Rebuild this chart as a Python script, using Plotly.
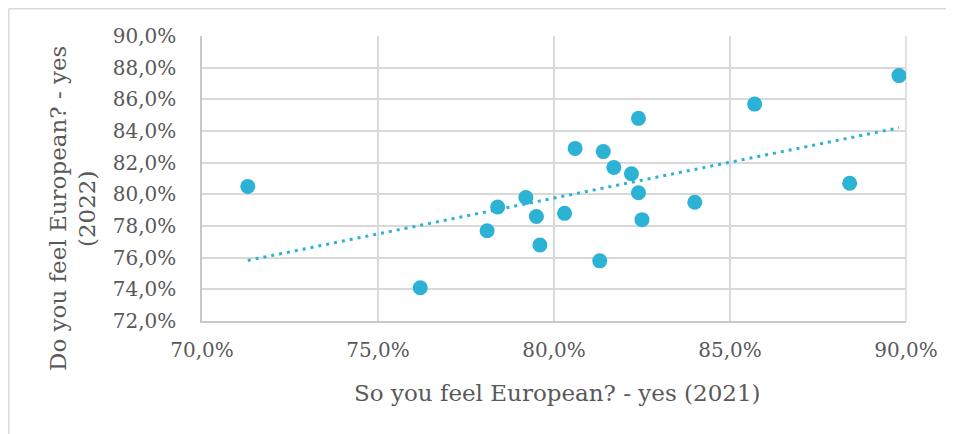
import numpy as np
import plotly.graph_objects as go

# Data (percent)
feel_2021 = [71.3, 76.2, 78.1, 78.4, 79.2, 79.5, 79.6, 80.3, 80.6, 81.4,
             81.7, 81.3, 82.2, 82.4, 82.4, 82.5, 84.0, 85.7, 88.4, 89.8]
feel_2022 = [80.5, 74.1, 77.7, 79.2, 79.8, 78.6, 76.8, 78.8, 82.9, 82.7,
             81.7, 75.8, 81.3, 84.8, 80.1, 78.4, 79.5, 85.7, 80.7, 87.5]

x_ticks = [70, 75, 80, 85, 90]
x_tick_labels = ["70,0%", "75,0%", "80,0%", "85,0%", "90,0%"]
y_ticks = [72, 74, 76, 78, 80, 82, 84, 86, 88, 90]
y_tick_labels = ["72,0%", "74,0%", "76,0%", "78,0%", "80,0%",
                 "82,0%", "84,0%", "86,0%", "88,0%", "90,0%"]

x_title = "So you feel European? - yes (2021)"
y_title_1 = "Do you feel European? - yes"
y_title_2 = "(2022)"

COLOR = "#2BB2D4"
FONT = "DejaVu Serif"
TXT = "#595959"
GRID = "#D9D9D9"

# Linear trend line
xs = np.array(feel_2021)
ys = np.array(feel_2022)
slope, intercept = np.polyfit(xs, ys, 1)
tx = np.array([xs.min(), xs.max()])
ty = slope * tx + intercept

fig = go.Figure()
fig.add_trace(go.Scatter(x=tx, y=ty, mode="lines",
                         line=dict(color=COLOR, width=3, dash="3px,5px"),
                         hoverinfo="skip", showlegend=False))
fig.add_trace(go.Scatter(x=feel_2021, y=feel_2022, mode="markers",
                         marker=dict(color=COLOR, size=15, line=dict(width=0)),
                         showlegend=False))

# page has an 8px body margin: figure occupies page pixels 8..954 x 8..434
OFF = 8
W, H = 954 - OFF, 434 - OFF
L, R, T, B = 194, 48, 28, 113
pw, ph = W - L - R, H - T - B


def px(page_x):
    return (page_x - OFF - L) / pw


def py(page_y):
    return (H - B - (page_y - OFF)) / ph


fig.update_layout(
    width=W, height=H,
    margin=dict(l=L, r=R, t=T, b=B, pad=0),
    paper_bgcolor="white", plot_bgcolor="white",
    font=dict(family=FONT, size=20, color=TXT),
    xaxis=dict(range=[70, 90], tickvals=x_ticks, ticktext=x_tick_labels,
               showgrid=True, gridcolor=GRID, gridwidth=1.5,
               showline=True, linecolor="#C8C8C8", linewidth=1.5,
               zeroline=False, ticks="", ticklabelstandoff=10, automargin=False,
               tickfont=dict(family=FONT, size=20, color=TXT)),
    yaxis=dict(range=[72, 90], tickvals=y_ticks, ticktext=y_tick_labels,
               showgrid=True, gridcolor=GRID, gridwidth=1.5,
               showline=True, linecolor="#C8C8C8", linewidth=1.5,
               zeroline=False, ticks="", ticklabelstandoff=20, automargin=False,
               tickfont=dict(family=FONT, size=20, color=TXT)),
    shapes=[
        dict(type="line", xref="paper", yref="paper", x0=px(8.75), x1=px(954), y0=py(8.75), y1=py(8.75),
             line=dict(color=GRID, width=1.5)),
        dict(type="line", xref="paper", yref="paper", x0=px(8.75), x1=px(8.75), y0=py(8.75), y1=py(434),
             line=dict(color=GRID, width=1.5)),
        dict(type="line", xref="paper", yref="paper", x0=1, x1=1, y0=0, y1=1,
             line=dict(color=GRID, width=1.5), layer="below"),
    ],
    annotations=[
        dict(text=x_title, xref="paper", yref="paper", x=px(557), y=py(393),
             showarrow=False, xanchor="center", yanchor="middle",
             font=dict(family=FONT, size=23, color=TXT)),
        dict(text=y_title_1, xref="paper", yref="paper", x=px(58), y=py(209),
             showarrow=False, xanchor="center", yanchor="middle", textangle=-90,
             font=dict(family=FONT, size=23, color=TXT)),
        dict(text=y_title_2, xref="paper", yref="paper", x=px(87), y=py(209),
             showarrow=False, xanchor="center", yanchor="middle", textangle=-90,
             font=dict(family=FONT, size=23, color=TXT)),
    ],
)

fig.write_html("out.html")
